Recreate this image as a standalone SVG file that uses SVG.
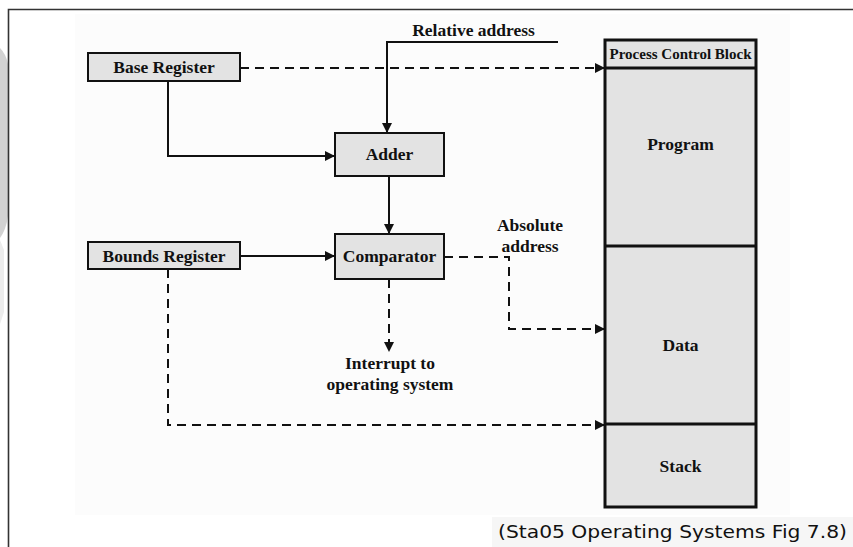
<svg xmlns="http://www.w3.org/2000/svg" width="853" height="547" viewBox="0 0 853 547">
  <style>
    .box { fill: #e3e3e3; stroke: #111; stroke-width: 2; }
    .mem { fill: #e3e3e3; stroke: #111; stroke-width: 3; }
    .lbl { font-family: "Liberation Serif", "Times New Roman", serif; font-weight: bold; font-size: 17.5px; fill: #111; text-anchor: middle; }
    .small { font-size: 15px; }
    .wire { fill: none; stroke: #111; stroke-width: 2; }
    .dash { stroke-dasharray: 9 6; }
    .cap { font-family: "DejaVu Sans", "Liberation Sans", sans-serif; font-size: 18px; fill: #111; }
  </style>
  <defs>
    <marker id="arrow" markerUnits="userSpaceOnUse" markerWidth="11" markerHeight="11" refX="10" refY="5" orient="auto">
      <path d="M0,0 L10,5 L0,10 Z" fill="#111"/>
    </marker>
  </defs>

  <!-- page background and frame -->
  <rect x="0" y="0" width="853" height="547" fill="#ffffff"/>
  <rect x="75" y="14" width="715" height="501" fill="#fcfcfc"/>
  <rect x="492" y="517" width="361" height="30" fill="#f6f6f6"/>
  <path d="M0,48 Q6,54 8,64 L8,216 Q6,230 0,238 Z" fill="#d2d2d2"/>
  <path d="M0,240 L4,250 L4,312 L0,324 Z" fill="#ececec"/>
  <path d="M853,9.5 L8.5,9.5 L8.5,547" fill="none" stroke="#333" stroke-width="1.6"/>

  <!-- connectors -->
  <g id="connectors">
    <!-- relative address into adder -->
    <path class="wire" d="M558,42 L387,42 L387,133" marker-end="url(#arrow)"/>
    <!-- base register into adder -->
    <path class="wire" d="M168,81 L168,156 L335,156" marker-end="url(#arrow)"/>
    <!-- adder into comparator -->
    <path class="wire" d="M389,176 L389,234" marker-end="url(#arrow)"/>
    <!-- bounds register into comparator -->
    <path class="wire" d="M240,256 L335,256" marker-end="url(#arrow)"/>
    <!-- base register to process control block -->
    <path class="wire dash" d="M240,68 L605,68" marker-end="url(#arrow)"/>
    <!-- absolute address to data -->
    <path class="wire dash" d="M444,257 L509,257 L509,329 L605,329" marker-end="url(#arrow)"/>
    <!-- comparator interrupt -->
    <path class="wire dash" d="M389,279 L389,352" marker-end="url(#arrow)"/>
    <!-- bounds register to stack -->
    <path class="wire dash" d="M168,269 L168,425 L605,425" marker-end="url(#arrow)"/>
  </g>

  <g id="base-register">
    <rect class="box" x="88" y="53" width="152" height="28"/>
    <text class="lbl" x="164" y="73">Base Register</text>
  </g>

  <g id="bounds-register">
    <rect class="box" x="88" y="242" width="152" height="27"/>
    <text class="lbl" x="164" y="262">Bounds Register</text>
  </g>

  <g id="adder">
    <rect class="box" x="335" y="133" width="109" height="43"/>
    <text class="lbl" x="389.5" y="160">Adder</text>
  </g>

  <g id="comparator">
    <rect class="box" x="335" y="234" width="109" height="45"/>
    <text class="lbl" x="389.5" y="262">Comparator</text>
  </g>

  <g id="process-image">
    <rect class="mem" x="605" y="40" width="151" height="467"/>
    <line x1="605" y1="68" x2="756" y2="68" stroke="#111" stroke-width="3"/>
    <line x1="605" y1="246" x2="756" y2="246" stroke="#111" stroke-width="3"/>
    <line x1="605" y1="424" x2="756" y2="424" stroke="#111" stroke-width="3"/>
    <text class="lbl small" x="680.5" y="59">Process Control Block</text>
    <text class="lbl" x="680.5" y="150">Program</text>
    <text class="lbl" x="680.5" y="351">Data</text>
    <text class="lbl" x="680.5" y="472">Stack</text>
  </g>

  <g id="labels">
    <text class="lbl" x="473.5" y="36">Relative address</text>
    <text class="lbl" x="530" y="231">Absolute</text>
    <text class="lbl" x="530" y="252">address</text>
    <text class="lbl" x="390" y="369">Interrupt to</text>
    <text class="lbl" x="390" y="390">operating system</text>
  </g>

  <text class="cap" x="498" y="538" textLength="349" lengthAdjust="spacingAndGlyphs">(Sta05 Operating Systems Fig 7.8)</text>
</svg>
